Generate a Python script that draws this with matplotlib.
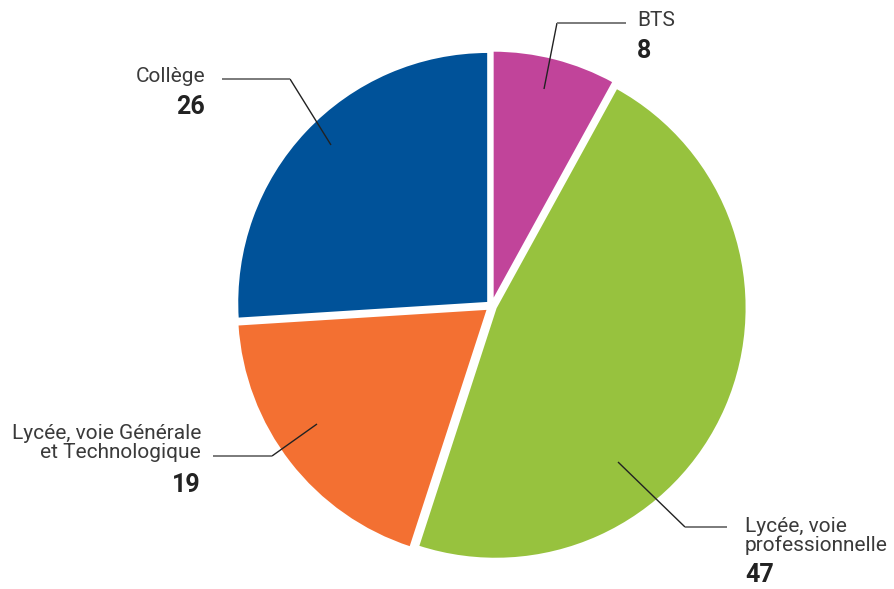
import matplotlib.pyplot as plt

plt.rcParams['font.family'] = ['Roboto', 'DejaVu Sans']

# parts of the total, clockwise from 12 o'clock
categories = ['BTS', 'Lycée, voie\nprofessionnelle', 'Lycée, voie Générale\net Technologique', 'Collège']
values = [8, 47, 19, 26]
colors = ['#C1449A', '#97C23E', '#F37032', '#005299']

W, H = 894, 589


def flip(pt):
    # picture coords (y down) -> axes coords (y up)
    return pt[0], H - pt[1]


fig = plt.figure(figsize=(W / 100, H / 100), dpi=100)
ax = fig.add_axes([0, 0, 1, 1])

radius = 251
# explode is an offset in data units here (pixels)
ax.pie(values, colors=colors, startangle=90, counterclock=False,
       center=flip((491.5, 306)), radius=radius,
       explode=[4.5] * len(values),
       wedgeprops=dict(edgecolor='white', linewidth=1.5))

# pie() sets its own limits, so set the pixel frame afterwards
ax.set_xlim(0, W)
ax.set_ylim(0, H)
ax.set_aspect('equal')
ax.axis('off')

# leader lines: inner point, elbow, outer end ; text anchor and alignment
layout = [
    dict(line=[(544, 89), (557, 23), (626, 23)], text=(637, 20), num=(637, 51), ha='left'),
    dict(line=[(618, 462), (685, 527), (727, 527)], text=(745, 536), num=(745, 575), ha='left'),
    dict(line=[(317, 424), (272, 456), (213, 456)], text=(201, 443), num=(201, 485), ha='right'),
    dict(line=[(331, 145), (290, 79), (222, 79)], text=(205, 76), num=(205, 107), ha='right'),
]

for name, val, lay in zip(categories, values, layout):
    p0, p1, p2 = [flip(p) for p in lay['line']]
    ax.plot([p0[0], p1[0]], [p0[1], p1[1]], color='#222222', lw=1, solid_capstyle='butt')
    ax.plot([p1[0], p2[0]], [p1[1], p2[1]], color='#7a7a7a', lw=1.4, solid_capstyle='butt')
    tx, ty = flip(lay['text'])
    ax.text(tx, ty, name, ha=lay['ha'], va='center', fontsize=15, color='#3a3a3a',
            multialignment=lay['ha'], linespacing=0.95)
    nx, ny = flip(lay['num'])
    ax.text(nx, ny, str(val), ha=lay['ha'], va='center', fontsize=18, fontweight='bold',
            color='#222222')

fig.savefig('out.png', dpi=100)
